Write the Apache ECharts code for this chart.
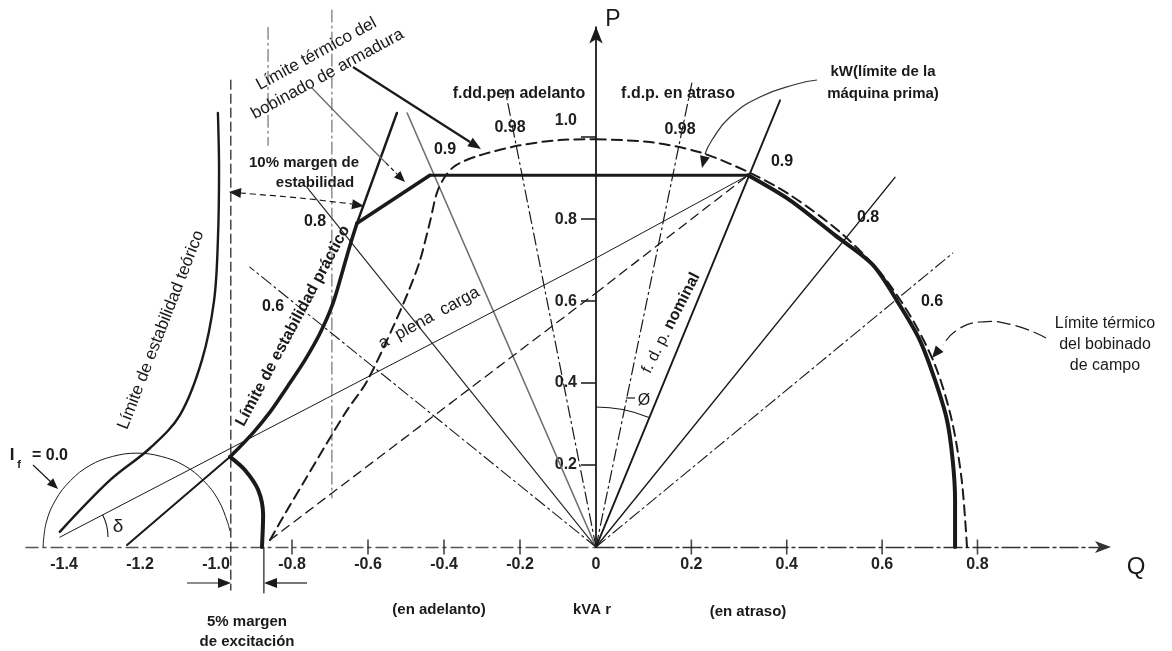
<!DOCTYPE html>
<html><head><meta charset="utf-8">
<script src="https://cdn.jsdelivr.net/npm/echarts@6/dist/echarts.min.js"></script>
<style>html,body{margin:0;padding:0;background:#fff}#c{width:1172px;height:651px}</style>
</head><body><div id="c"></div>
<script>
// ---------- tick labels (Q = kVAr, P = kW, per unit) ----------
const qLabelsLead = [-1.4, -1.2, -1.0, -0.8, -0.6, -0.4, -0.2];
const qTickMarksLead = [-0.8, -0.6, -0.4, -0.2];
const qLabelsLag = [0, 0.2, 0.4, 0.6, 0.8];
const qTickMarksLag = [0.2, 0.4, 0.6, 0.8];
const pLabels = [0.2, 0.4, 0.6, 0.8, 1.0];

// ---------- capability curve (thick) ----------
const minExcitationLimit = [[-0.879,0],[-0.876,0.078],[-0.889,0.139],[-0.924,0.188],[-0.963,0.22]];
const practicalStability = [[-0.963,0.22],[-0.903,0.278],[-0.858,0.329],[-0.813,0.39],[-0.766,0.456],[-0.726,0.522],[-0.692,0.595],[-0.666,0.676],[-0.647,0.737],[-0.629,0.79]];
const practicalStabilityUpper = [[-0.629,0.79],[-0.524,1.059]];
const armatureLimitLead = [[-0.629,0.79],[-0.437,0.907]];
const primeMoverLimitLead = [[-0.437,0.907],[0,0.907]];
const primeMoverLimitLag = [[0,0.907],[0.319,0.907]];
const fieldLimit = [[0.319,0.907],[0.407,0.846],[0.501,0.761],[0.581,0.688],[0.637,0.59],[0.679,0.505],[0.711,0.407],[0.736,0.31],[0.748,0.212],[0.753,0.115],[0.753,0]];

// ---------- armature thermal limit circle (dashed) ----------
const armatureCircleLead = [[-0.858,0.017],[-0.813,0.09],[-0.766,0.163],[-0.708,0.254],[-0.655,0.334],[-0.603,0.404],[-0.534,0.537],[-0.489,0.634],[-0.463,0.7],[-0.437,0.793],[-0.418,0.866],[-0.395,0.907],[-0.368,0.932],[-0.305,0.956],[-0.2,0.98],[-0.095,0.993],[0,0.995]];
const armatureCircleLag = [[0,0.995],[0.113,0.988],[0.218,0.963],[0.319,0.915],[0.407,0.859],[0.512,0.768],[0.595,0.671],[0.658,0.566],[0.711,0.444],[0.746,0.31],[0.767,0.163],[0.778,0]];

// ---------- stability construction ----------
const theoreticalStability = [[-0.995,1.059],[-0.992,0.92],[-0.995,0.749],[-1.005,0.602],[-1.037,0.456],[-1.095,0.322],[-1.174,0.241],[-1.279,0.163],[-1.411,0.037]];
const fieldZeroArc = [[-1.455,0],[-1.447,0.059],[-1.422,0.115],[-1.383,0.162],[-1.332,0.199],[-1.272,0.221],[-1.208,0.229],[-1.144,0.221],[-1.084,0.199],[-1.033,0.162],[-0.994,0.115],[-0.969,0.059],[-0.964,0.04]];
const lineFromXq = [[-1.234,0.005],[-0.963,0.22]];
const fullLoadLead = [[-1.411,0.024],[0,0.705]];
const fullLoadLag = [[0,0.705],[0.319,0.907]];
const marginLineLead = [[-0.858,0.017],[0,0.62]];
const marginLineLag = [[0,0.62],[0.319,0.907]];
const stabilityMarginLine = [[-0.961,1.139],[-0.961,-0.105]];
const excitationMarginLine = [[-0.874,0],[-0.874,-0.112]];
const constructionA = [[-0.863,1.268],[-0.863,0.98]];
const constructionB = [[-0.695,1.31],[-0.695,0.12]];

// ---------- power-factor rays (end points) ----------
const pfLeadValues = [0.98, 0.9, 0.8, 0.6];
const pfLeadEnds = [[-0.239,1.115],[-0.497,1.059],[-0.761,0.878],[-0.911,0.683]];
const pfLagValues = [0.98, 0.9, 0.8, 0.6];
const pfLagEnds = [[0.201,1.132],[0.386,1.09],[0.627,0.902],[0.748,0.717]];
const pAxisTop = 1.27;

// ================= rendering =================
const F = '"Liberation Sans", Arial, sans-serif';
const INK = '#1a1a1a';
const DASHDOT = [12,4,2,4];
const fmt = v => (v === 0 ? '0' : v.toFixed(1));
const P_MIN = -0.2, P_MAX = 1.32, GRID_TOP = 6, GRID_H = 623;
// shift the Q axis (with its labels) up from the grid bottom to P = 0
const Q_AXIS_OFFSET = -GRID_H * (0 - P_MIN) / (P_MAX - P_MIN);

function ln(name, grid, data, o) {
  return {
    name, type: 'line', xAxisIndex: grid, yAxisIndex: grid, data,
    symbol: 'none', smooth: o.smooth || false, silent: true, z: o.z || 3, clip: false,
    lineStyle: { color: o.color || INK, width: o.w || 1.2, type: o.type || 'solid', cap: 'round', join: 'round' }
  };
}

const leadStyles = [
  { type: DASHDOT, w: 1.2 }, { color: '#6f6f6f', w: 1.6 }, { w: 1.2, color: '#2a2a2a' }, { type: DASHDOT, w: 1.1 }
];
const lagStyles = [
  { type: DASHDOT, w: 1.2 }, { w: 1.9 }, { w: 1.4 }, { type: DASHDOT, w: 1.1 }
];

const series = [];
pfLeadEnds.forEach((e, i) => series.push(ln('fdp adelanto ' + pfLeadValues[i], 0, [[0,0], e], leadStyles[i])));
pfLagEnds.forEach((e, i) => series.push(ln('fdp atraso ' + pfLagValues[i], 1, [[0,0], e], lagStyles[i])));

series.push(
  ln('círculo armadura adelanto', 0, armatureCircleLead, { type: [10,6], w: 2, smooth: 0.3 }),
  ln('círculo armadura atraso', 1, armatureCircleLag, { type: [10,6], w: 2, smooth: 0.3 }),
  ln('estabilidad teórico', 0, theoreticalStability, { w: 2.4, smooth: 0.35, z: 4 }),
  ln('If=0', 0, fieldZeroArc, { w: 1, smooth: 0.4 }),
  ln('Xq', 0, lineFromXq, { w: 2 }),
  ln('plena carga adelanto', 0, fullLoadLead, { w: 1 }),
  ln('plena carga atraso', 1, fullLoadLag, { w: 1 }),
  ln('margen adelanto', 0, marginLineLead, { type: [9,6], w: 1.3 }),
  ln('margen atraso', 1, marginLineLag, { type: [9,6], w: 1.3 }),
  ln('margen estabilidad', 0, stabilityMarginLine, { type: [9,5], w: 1.2 }),
  ln('margen excitación', 0, excitationMarginLine, { w: 1.2 }),
  ln('construcción A', 0, constructionA, { type: DASHDOT, w: 1, color: '#555' }),
  ln('construcción B', 0, constructionB, { type: DASHDOT, w: 1, color: '#555' }),
  ln('límite mínima excitación', 0, minExcitationLimit, { w: 4, smooth: 0.3, z: 6 }),
  ln('estabilidad práctico', 0, practicalStability, { w: 3.6, smooth: 0.3, z: 6 }),
  ln('estabilidad práctico sup', 0, practicalStabilityUpper, { w: 2.4, z: 6 }),
  ln('límite armadura', 0, armatureLimitLead, { w: 3.6, z: 6 }),
  ln('máquina prima adelanto', 0, primeMoverLimitLead, { w: 3, z: 6 }),
  ln('máquina prima atraso', 1, primeMoverLimitLag, { w: 3, z: 6 }),
  ln('límite campo', 1, fieldLimit, { w: 4, smooth: 0.3, z: 6 }),
  {
    type: 'scatter', xAxisIndex: 0, yAxisIndex: 0, silent: true, z: 5,
    data: qTickMarksLead.map(v => [v, 0]), symbol: 'rect', symbolSize: [1.6, 15],
    itemStyle: { color: INK }
  },
  {
    type: 'scatter', xAxisIndex: 1, yAxisIndex: 1, silent: true, z: 5,
    data: qTickMarksLag.map(v => [v, 0]), symbol: 'rect', symbolSize: [1.6, 15],
    itemStyle: { color: INK }
  },
  {
    type: 'line', xAxisIndex: 1, yAxisIndex: 1, data: [], silent: true,
    markLine: {
      silent: true, symbol: ['none', 'arrow'], symbolSize: [10, 17],
      label: { show: false },
      lineStyle: { color: INK, width: 1.8, type: 'solid' },
      data: [[{ coord: [0, 0] }, { coord: [0, pAxisTop] }]]
    }
  }
);

const axisLabelStyle = { color: '#222', fontSize: 16, fontWeight: 'bold', fontFamily: F, formatter: fmt };
const pLabelStyle = {
  color: '#222', fontSize: 16, fontWeight: 'bold', fontFamily: F,
  formatter: v => (v === 1 ? '{up|1.0}' : fmt(v)),
  rich: { up: { color: '#222', fontSize: 16, fontWeight: 'bold', fontFamily: F, padding: [0, 0, 34, 0] } }
};

// ---------- annotation helpers (pixel space) ----------
function txt(text, x, y, o = {}) {
  return { type: 'text', x, y, rotation: o.rot || 0, z: 100,
    style: { text, fontFamily: F, fontSize: o.size || 15, fontWeight: o.weight || 'bold',
      fill: o.color || INK, align: o.align || 'center', verticalAlign: 'middle',
      lineHeight: o.lh || undefined, rich: o.rich || undefined } };
}
function head(x1, y1, x2, y2, len = 12, w = 4.5) {
  const a = Math.atan2(y2 - y1, x2 - x1);
  const bx = x2 - len * Math.cos(a), by = y2 - len * Math.sin(a);
  const px = -Math.sin(a) * w, py = Math.cos(a) * w;
  return { type: 'polygon', z: 100, shape: { points: [[x2, y2], [bx + px, by + py], [bx - px, by - py]] }, style: { fill: INK } };
}
function poly(points, o = {}) {
  return { type: 'polyline', z: 100, shape: { points, smooth: o.smooth || 0 },
    style: { stroke: o.color || INK, lineWidth: o.w || 1.2, lineDash: o.dash || null, fill: null } };
}
function arc(cx, cy, r, s, e) {
  return { type: 'arc', z: 100, shape: { cx, cy, r, startAngle: s, endAngle: e, clockwise: true },
    style: { stroke: INK, lineWidth: 1.1, fill: null } };
}

const graphic = [
  // armature label + leaders
  txt('Límite térmico del\nbobinado de armadura', 322, 64, { rot: 0.5, size: 17, weight: 'normal', lh: 23 }),
  poly([[353, 67], [470, 142]], { w: 2.2 }), head(353, 67, 481, 149, 13, 5),
  poly([[312, 88], [340, 117], [386, 163]], { color: '#666', w: 1.2 }),
  poly([[386, 163], [397, 174]], { dash: [4, 3] }), head(386, 163, 405, 182, 11, 4.5),
  // 10% margin
  txt('10% margen de', 304, 163, { size: 15 }),
  txt('estabilidad', 315, 183, { size: 15 }),
  poly([[240, 193], [300, 198], [352, 204]], { dash: [6, 4], smooth: 0.3 }),
  head(262, 195, 229, 192, 12, 5), head(330, 201, 364, 206, 12, 5),
  // pf labels
  txt('0.98', 510, 128, { size: 16 }), txt('0.9', 445, 150, { size: 16 }),
  txt('0.8', 315, 222, { size: 16 }), txt('0.6', 273, 307, { size: 16 }),
  txt('0.98', 680, 130, { size: 16 }), txt('0.9', 782, 162, { size: 16 }),
  txt('0.8', 868, 218, { size: 16 }), txt('0.6', 932, 302, { size: 16 }),
  txt('f.dd.pen adelanto', 519, 94, { size: 16 }),
  txt('f.d.p. en atraso', 678, 94, { size: 16 }),
  txt('P', 613, 20, { size: 23, weight: 'normal' }),
  txt('Q', 1136, 567, { size: 24, weight: 'normal' }),
  // kW label
  txt('kW(límite de la\nmáquina prima)', 883, 83, { size: 15, lh: 22 }),
  poly([[817, 80], [797, 84], [760, 97], [730, 117], [712, 140], [705, 154]], { w: 1.2, smooth: 0.5, color: '#333' }),
  head(707, 148, 702, 168, 12, 5),
  // field label
  txt('Límite térmico\ndel bobinado\nde campo', 1105, 345, { size: 16, weight: 'normal', lh: 21 }),
  poly([[1046, 338], [1013, 325], [980, 322], [957, 330], [943, 345]], { dash: [14, 5], smooth: 0.5 }),
  head(946, 341, 932, 358, 12, 5),
  // rotated curve labels
  txt('Límite de estabilidad teórico', 161, 330, { rot: 1.2, size: 17, weight: 'normal' }),
  txt('Límite de estabilidad práctico', 293, 326, { rot: 1.08, size: 16 }),
  txt('a  plena  carga', 429, 318, { rot: 0.5, size: 17, weight: 'normal' }),
  txt('{a|f. d. p. }{b|nominal}', 671, 323, { rot: 1.1, size: 16, weight: 'normal',
    rich: { a: { fontSize: 16, fontFamily: F, fill: INK }, b: { fontSize: 16, fontFamily: F, fontWeight: 'bold', fill: INK } } }),
  // If = 0.0 and delta
  txt('I', 12, 455, { size: 17 }), txt('f', 19, 465, { size: 11 }), txt('= 0.0', 50, 456, { size: 16 }),
  poly([[33, 465], [52, 483]]), head(33, 465, 58, 489, 11, 4.5),
  arc(60, 537, 48, -0.48, 0),
  txt('δ', 118, 527, { size: 19, weight: 'normal' }),
  // phi
  arc(596, 547, 140, -Math.PI / 2, -1.183),
  poly([[626, 398], [635, 398]]),
  txt('Ø', 644, 401, { size: 16, weight: 'normal' }),
  // 5% margin
  poly([[187, 583], [220, 583]]), head(187, 583, 231, 583, 13, 5),
  poly([[307, 583], [275, 583]]), head(307, 583, 264, 583, 13, 5),
  txt('5% margen\nde excitación', 247, 632, { size: 15, lh: 20 }),
  // bottom captions
  txt('(en adelanto)', 439, 610, { size: 15 }),
  txt('kVA r', 592, 610, { size: 15 }),
  txt('(en atraso)', 748, 612, { size: 15 })
];

const option = {
  animation: false,
  backgroundColor: '#ffffff',
  grid: [
    { left: 26, top: GRID_TOP, width: 570, height: GRID_H, containLabel: false, outerBoundsMode: 'none' },
    { left: 596, top: GRID_TOP, width: 515, height: GRID_H, containLabel: false, outerBoundsMode: 'none' }
  ],
  xAxis: [
    { gridIndex: 0, type: 'value', min: -1.5, max: 0, splitLine: { show: false }, position: 'bottom', offset: Q_AXIS_OFFSET,
      axisLine: { onZero: false, lineStyle: { color: '#555', width: 1.3, type: [12, 5, 3, 5] } },
      axisTick: { show: false },
      axisLabel: Object.assign({ customValues: qLabelsLead, margin: 10 }, axisLabelStyle) },
    { gridIndex: 1, type: 'value', min: 0, max: 1.08, splitLine: { show: false }, position: 'bottom', offset: Q_AXIS_OFFSET,
      axisLine: { onZero: false, symbol: ['none', 'arrow'], symbolSize: [9, 16],
        lineStyle: { color: '#333', width: 1.3, type: [18, 4, 3, 4] } },
      axisTick: { show: false },
      axisLabel: Object.assign({ customValues: qLabelsLag, margin: 10 }, axisLabelStyle) }
  ],
  yAxis: [
    { gridIndex: 0, type: 'value', min: P_MIN, max: P_MAX, show: false },
    { gridIndex: 1, type: 'value', min: P_MIN, max: P_MAX, position: 'left', splitLine: { show: false },
      axisLine: { show: false, onZero: false },
      axisTick: { show: true, inside: false, length: 15, customValues: pLabels, lineStyle: { color: '#222', width: 1.6 } },
      axisLabel: Object.assign({ customValues: pLabels, margin: 19 }, pLabelStyle) }
  ],
  series,
  graphic
};

const chart = echarts.init(document.getElementById('c'), null, { renderer: 'canvas' });
chart.setOption(option);
</script>
</body></html>
